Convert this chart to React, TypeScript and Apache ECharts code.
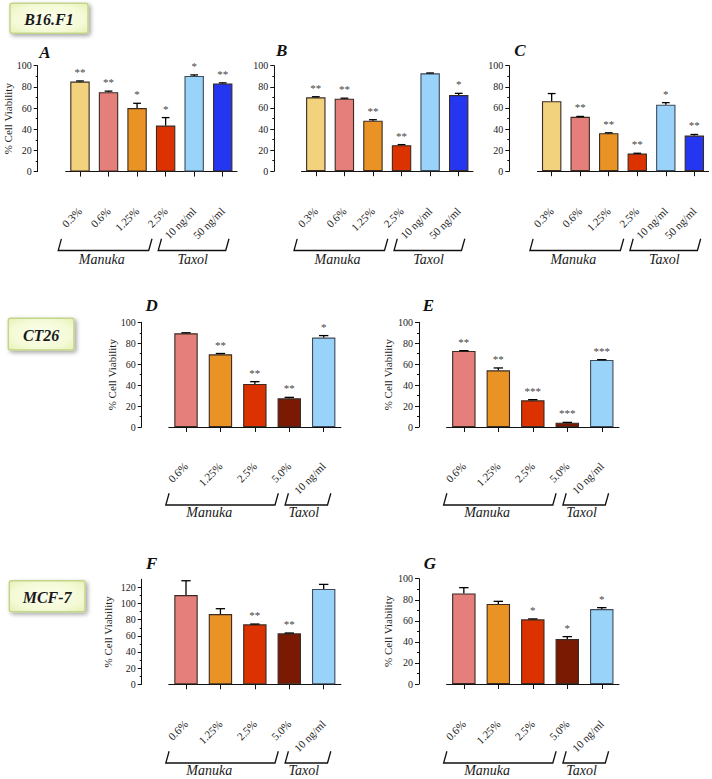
import React, { useEffect, useRef } from 'react';
import * as echarts from 'echarts';

// ---------- data ----------
const catsTop = ['0.3%', '0.6%', '1.25%', '2.5%', '10 ng/ml', '50 ng/ml'];
const catsBottom = ['0.6%', '1.25%', '2.5%', '5.0%', '10 ng/ml'];

const colorsTop = ['#F3D27E', '#E47F7B', '#E89323', '#DC3200', '#99D3FA', '#2436F0'];
const colorsBottom = ['#E47F7B', '#E89323', '#DC3200', '#7B1A02', '#99D3FA'];

// B16.F1
const aMean = [85, 75, 60, 43.5, 90.3, 83.3];
const aErr = [85.6, 76, 64.5, 51, 91.3, 83.8];
const aSig = ['**', '**', '*', '*', '*', '**'];

const bMean = [70, 68.7, 47.8, 24.7, 92.8, 72.2];
const bErr = [70.6, 69.2, 48.8, 25.2, 93.1, 73.8];
const bSig = ['**', '**', '**', '**', '', '*'];

const cMean = [66.3, 51.5, 36, 16.7, 63, 33.8];
const cErr = [73.6, 51.9, 36.4, 17, 65, 34.8];
const cSig = ['', '**', '**', '**', '*', '**'];

// CT26
const dMean = [89.5, 69.4, 41.1, 27.4, 85.4];
const dErr = [90, 70.2, 43.3, 28.3, 87.3];
const dSig = ['', '**', '**', '**', '*'];

const eMean = [72.6, 54.1, 25.5, 4.1, 64];
const eErr = [72.9, 56.4, 26.1, 4.4, 64.3];
const eSig = ['**', '**', '***', '***', '***'];

// MCF-7
const fMean = [110.5, 87, 74.2, 63.1, 118];
const fErr = [128.2, 93.6, 74.6, 63.5, 123.7];
const fSig = ['', '', '**', '**', ''];

const gMean = [86, 76, 61.4, 42.7, 71.2];
const gErr = [91.5, 78.5, 61.8, 45, 72.5];
const gSig = ['', '', '*', '*', '*'];

const yTicksF = [0, 20, 40, 60, 80, 100, 120];

const groupLabels = ['Manuka', 'Taxol'];
const cellLines = ['B16.F1', 'CT26', 'MCF-7'];
const panelLetters = ['A', 'B', 'C', 'D', 'E', 'F', 'G'];
const yTitle = '% Cell Viability';

// ---------- layout ----------
const SERIF = 'Liberation Serif, DejaVu Serif, serif';

type Panel = {
  cats: string[]; colors: string[]; mean: number[]; err: number[]; sig: string[];
  left: number; top: number; width: number; height: number;
  yOff: number; xOff: number; max: number;
  letter: [number, number]; title: [number, number] | null; row: number;
};

const panels: Panel[] = [
  { cats: catsTop, colors: colorsTop, mean: aMean, err: aErr, sig: aSig, left: 65.7, top: 65.7, width: 171.3, height: 105.9, yOff: 28, xOff: 27.6, max: 100, letter: [45, 52], title: [7.5, 118.7], row: 0 },
  { cats: catsTop, colors: colorsTop, mean: bMean, err: bErr, sig: bSig, left: 301.5, top: 65.7, width: 171.5, height: 105.5, yOff: 27.2, xOff: 28, max: 100, letter: [281.7, 50], title: null, row: 0 },
  { cats: catsTop, colors: colorsTop, mean: cMean, err: cErr, sig: cSig, left: 537.4, top: 65.7, width: 171.2, height: 105.5, yOff: 28.1, xOff: 28, max: 100, letter: [520, 50], title: null, row: 0 },
  { cats: catsBottom, colors: colorsBottom, mean: dMean, err: dErr, sig: dSig, left: 168.8, top: 322.3, width: 172.1, height: 104.7, yOff: 27.1, xOff: 27.3, max: 100, letter: [151.7, 305], title: [111.7, 374.7], row: 1 },
  { cats: catsBottom, colors: colorsBottom, mean: eMean, err: eErr, sig: eSig, left: 446.6, top: 322.3, width: 172.4, height: 104.7, yOff: 27.6, xOff: 27.3, max: 100, letter: [428.3, 305], title: [388.3, 374.7], row: 1 },
  { cats: catsBottom, colors: colorsBottom, mean: fMean, err: fErr, sig: fSig, left: 168.8, top: 579.3, width: 172.1, height: 105, yOff: 27.1, xOff: 27.7, max: 130, letter: [151.7, 563.3], title: [108.3, 631.8], row: 2 },
  { cats: catsBottom, colors: colorsBottom, mean: gMean, err: gErr, sig: gSig, left: 446.6, top: 578.7, width: 172.4, height: 105.3, yOff: 27.6, xOff: 28, max: 100, letter: [430, 563.3], title: [388.3, 631.4], row: 2 },
];

const boxes = [
  { x: 10, y: 3.3, w: 78, h: 30 },
  { x: 8.3, y: 318.3, w: 65.7, h: 31.7 },
  { x: 9.3, y: 580.7, w: 75.7, h: 31 },
];

function txt(text: string, x: number, y: number, font: string, fill: string, align = 'center', vAlign = 'middle') {
  return { text, x, y, font, fill, align, verticalAlign: vAlign };
}

function bracketGraphics(p: Panel) {
  const L = p.left;
  const els: any[] = [];
  let yB: number, yT: number, yText: number;
  let man: number[][], tax: number[][], manX: number, taxX: number;
  if (p.row === 0) {
    yB = 250.5; yT = 238.8; yText = 259;
    man = [[L - 4.3, yT], [L - 7.5, yB], [L + 83, yB], [L + 86.3, yT]];
    tax = [[L + 95.8, yT], [L + 92.5, yB], [L + 160, yB], [L + 163.3, yT]];
    manX = L + 36; taxX = L + 127;
  } else {
    const dy = p.row === 1 ? 0 : 258;
    yB = 505 + dy; yT = 493.3 + dy; yText = 512.5 + dy;
    man = [[L + 0.3, yT], [L - 3, yB], [L + 106.2, yB], [L + 109.5, yT]];
    tax = [[L + 119.6, yT], [L + 116.3, yB], [L + 158.7, yB], [L + 162, yT]];
    manX = L + 40.5; taxX = L + 135;
  }
  [man, tax].forEach((pts) => {
    els.push({ type: 'polyline', silent: true, shape: { points: pts }, style: { stroke: '#111', lineWidth: 1.3, fill: null } });
  });
  els.push({ type: 'text', silent: true, style: txt(groupLabels[0], manX, yText, `italic 14px ${SERIF}`, '#1a1a1a') });
  els.push({ type: 'text', silent: true, style: txt(groupLabels[1], taxX, yText, `italic 14px ${SERIF}`, '#1a1a1a') });
  return els;
}

function buildOption() {
  const grid = panels.map((p) => ({ left: p.left, top: p.top, width: p.width, height: p.height, containLabel: false }));
  const xAxis = panels.map((p, i) => ({
    type: 'category', gridIndex: i, data: p.cats, position: 'bottom', offset: p.xOff,
    axisLine: { show: true, lineStyle: { color: '#111', width: 1 } },
    axisTick: { show: true, alignWithLabel: true, length: 5, lineStyle: { color: '#111' } },
    axisLabel: { interval: 0, rotate: 45, margin: 10, fontFamily: SERIF, fontSize: 11, color: '#222' },
    splitLine: { show: false },
  }));
  const yAxis = panels.map((p, i) => {
    const ax: any = {
      type: 'value', gridIndex: i, min: 0, max: p.max, interval: 20, offset: p.yOff, position: 'left',
      axisLine: { show: true, lineStyle: { color: '#111', width: 1 } },
      axisTick: { show: true, length: 4, lineStyle: { color: '#111' } },
      minorTick: { show: true, splitNumber: 2, length: 2, lineStyle: { color: '#111' } },
      splitLine: { show: false },
      axisLabel: { margin: 6, fontFamily: SERIF, fontSize: 10, color: '#222' },
    };
    if (p.max !== 100) {
      ax.axisTick.customValues = yTicksF;
      ax.axisLabel.customValues = yTicksF;
    }
    return ax;
  });
  const series: any[] = [];
  panels.forEach((p, i) => {
    series.push({
      type: 'bar', xAxisIndex: i, yAxisIndex: i, barWidth: '68%', z: 2,
      data: p.mean.map((v, j) => ({
        value: v,
        itemStyle: { color: p.colors[j], borderColor: p.colors[j] === '#99D3FA' ? '#3d4b5a' : '#3b2b22', borderWidth: 1.1 },
      })),
    });
    series.push({
      type: 'custom', xAxisIndex: i, yAxisIndex: i, z: 4, clip: false,
      data: p.mean.map((v, j) => [j, v, p.err[j]]),
      renderItem: (params: any, api: any) => {
        const j = api.value(0);
        const v = api.value(1);
        const e = api.value(2);
        const base = api.coord([j, v]);
        const top = api.coord([j, e]);
        const bw = api.size([1, 0])[0] * 0.68;
        const cap = Math.max(7, bw * 0.4);
        const s = p.sig[params.dataIndex];
        const children: any[] = [
          { type: 'line', shape: { x1: base[0], y1: base[1], x2: top[0], y2: top[1] }, style: { stroke: '#000', lineWidth: 1.3 } },
          { type: 'line', shape: { x1: top[0] - cap / 2, y1: top[1], x2: top[0] + cap / 2, y2: top[1] }, style: { stroke: '#000', lineWidth: 1.3 } },
        ];
        if (s) {
          children.push({
            type: 'text',
            style: txt(s, top[0], top[1] - 3.5, `11px ${SERIF}`, '#444', 'center', 'bottom'),
          });
        }
        return { type: 'group', children };
      },
    });
  });

  const graphic: any[] = [];
  boxes.forEach((b, k) => {
    graphic.push({
      type: 'rect', silent: true,
      shape: { x: b.x, y: b.y, width: b.w, height: b.h, r: 2 },
      style: {
        fill: new echarts.graphic.RadialGradient(0.5, 0.5, 0.75, [
          { offset: 0, color: '#fdffef' },
          { offset: 0.6, color: '#f4fad6' },
          { offset: 1, color: '#e2efb0' },
        ]),
        stroke: '#c3d58a', lineWidth: 1.5,
        shadowBlur: 4, shadowColor: 'rgba(0,0,0,0.35)', shadowOffsetX: 2, shadowOffsetY: 2,
      },
    });
    graphic.push({
      type: 'text', silent: true,
      style: txt(cellLines[k], b.x + b.w / 2, b.y + b.h / 2 + 1, `italic bold 16px ${SERIF}`, '#1a1a1a'),
    });
  });
  panels.forEach((p, i) => {
    graphic.push({
      type: 'text', silent: true,
      style: txt(panelLetters[i], p.letter[0], p.letter[1], `italic bold 17px ${SERIF}`, '#111'),
    });
    if (p.title) {
      graphic.push({
        type: 'text', silent: true, x: p.title[0], y: p.title[1], rotation: Math.PI / 2,
        style: txt(yTitle, 0, 0, `11px ${SERIF}`, '#222'),
      });
    }
    bracketGraphics(p).forEach((g) => graphic.push(g));
  });

  return {
    animation: false,
    backgroundColor: '#ffffff',
    grid, xAxis, yAxis, series, graphic,
  };
}

export default function App() {
  const ref = useRef<HTMLDivElement>(null);
  useEffect(() => {
    document.body.style.margin = '0';
    if (!ref.current) return;
    const chart = echarts.init(ref.current, undefined, { renderer: 'svg' });
    chart.setOption(buildOption() as any);
    return () => chart.dispose();
  }, []);
  return <div ref={ref} style={{ width: 712, height: 779 }} />;
}
